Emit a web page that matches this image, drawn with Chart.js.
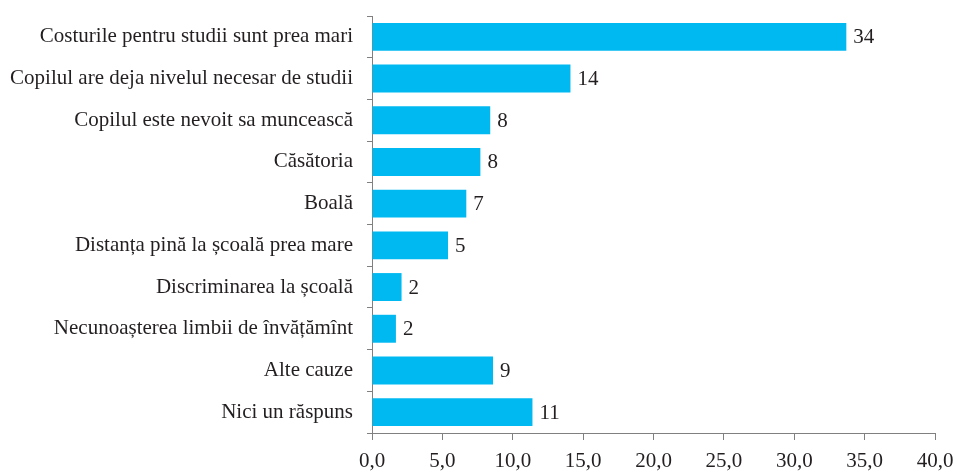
<!DOCTYPE html>
<html lang="ro">
<head>
    <meta charset="UTF-8">
    <title>Motivele abandonului școlar</title>
    <script src="https://cdn.jsdelivr.net/npm/chart.js"></script>
    <style>
        html, body { margin: 0; padding: 0; background: #fff; }
        #wrap { width: 953px; height: 473px; }
    </style>
</head>
<body>
    <div id="wrap"><canvas id="chart" width="953" height="473"></canvas></div>
    <script>
        const categories = [
            'Costurile pentru studii sunt prea mari',
            'Copilul are deja nivelul necesar de studii',
            'Copilul este nevoit sa muncească',
            'Căsătoria',
            'Boală',
            'Distanța pină la școală prea mare',
            'Discriminarea la școală',
            'Necunoașterea limbii de învățămînt',
            'Alte cauze',
            'Nici un răspuns'
        ];
        const values = [33.7, 14.1, 8.4, 7.7, 6.7, 5.4, 2.1, 1.7, 8.6, 11.4];
        const xTicks = [0, 5, 10, 15, 20, 25, 30, 35, 40];

        const textColor = '#231f20';
        const axisColor = '#808080';
        const serif = "'Liberation Serif', 'DejaVu Serif', serif";
        const fontSize = 21;

        // value labels to the right of each bar, rounded like the source
        const valueLabels = {
            id: 'valueLabels',
            afterDatasetsDraw(chart) {
                const ctx = chart.ctx;
                const meta = chart.getDatasetMeta(0);
                ctx.save();
                ctx.font = fontSize + 'px ' + serif;
                ctx.fillStyle = textColor;
                ctx.textAlign = 'left';
                ctx.textBaseline = 'middle';
                meta.data.forEach((bar, i) => {
                    ctx.fillText(String(Math.round(values[i])), bar.x + 7, bar.y + 1);
                });
                ctx.restore();
            }
        };

        new Chart(document.getElementById('chart'), {
            type: 'bar',
            data: {
                labels: categories,
                datasets: [{
                    data: values,
                    backgroundColor: '#00b9f1',
                    borderWidth: 0,
                    categoryPercentage: 1,
                    barPercentage: 0.67
                }]
            },
            options: {
                indexAxis: 'y',
                responsive: false,
                animation: false,
                layout: { padding: { top: 16, right: 18, left: 0, bottom: 0 } },
                plugins: {
                    legend: { display: false },
                    tooltip: { enabled: false }
                },
                scales: {
                    x: {
                        min: 0,
                        max: 40,
                        afterBuildTicks(scale) {
                            scale.ticks = xTicks.map(v => ({ value: v }));
                        },
                        afterFit(scale) {
                            scale.height = 40;
                            scale.paddingLeft = 0;
                            scale.paddingRight = 0;
                        },
                        border: { display: true, color: axisColor, width: 1 },
                        grid: {
                            drawOnChartArea: false,
                            drawTicks: true,
                            tickLength: 7,
                            color: axisColor
                        },
                        ticks: {
                            color: textColor,
                            font: { family: serif, size: fontSize },
                            padding: 9,
                            maxRotation: 0,
                            callback: v => v.toFixed(1).replace('.', ',')
                        }
                    },
                    y: {
                        afterFit(scale) {
                            scale.width = 372;
                            scale.paddingTop = 0;
                            scale.paddingBottom = 0;
                        },
                        border: { display: true, color: axisColor, width: 1 },
                        grid: {
                            offset: true,
                            drawOnChartArea: false,
                            drawTicks: true,
                            tickLength: 5,
                            color: axisColor
                        },
                        ticks: {
                            color: textColor,
                            font: { family: serif, size: fontSize },
                            padding: 14,
                            autoSkip: false
                        }
                    }
                }
            },
            plugins: [valueLabels]
        });
    </script>
</body>
</html>
